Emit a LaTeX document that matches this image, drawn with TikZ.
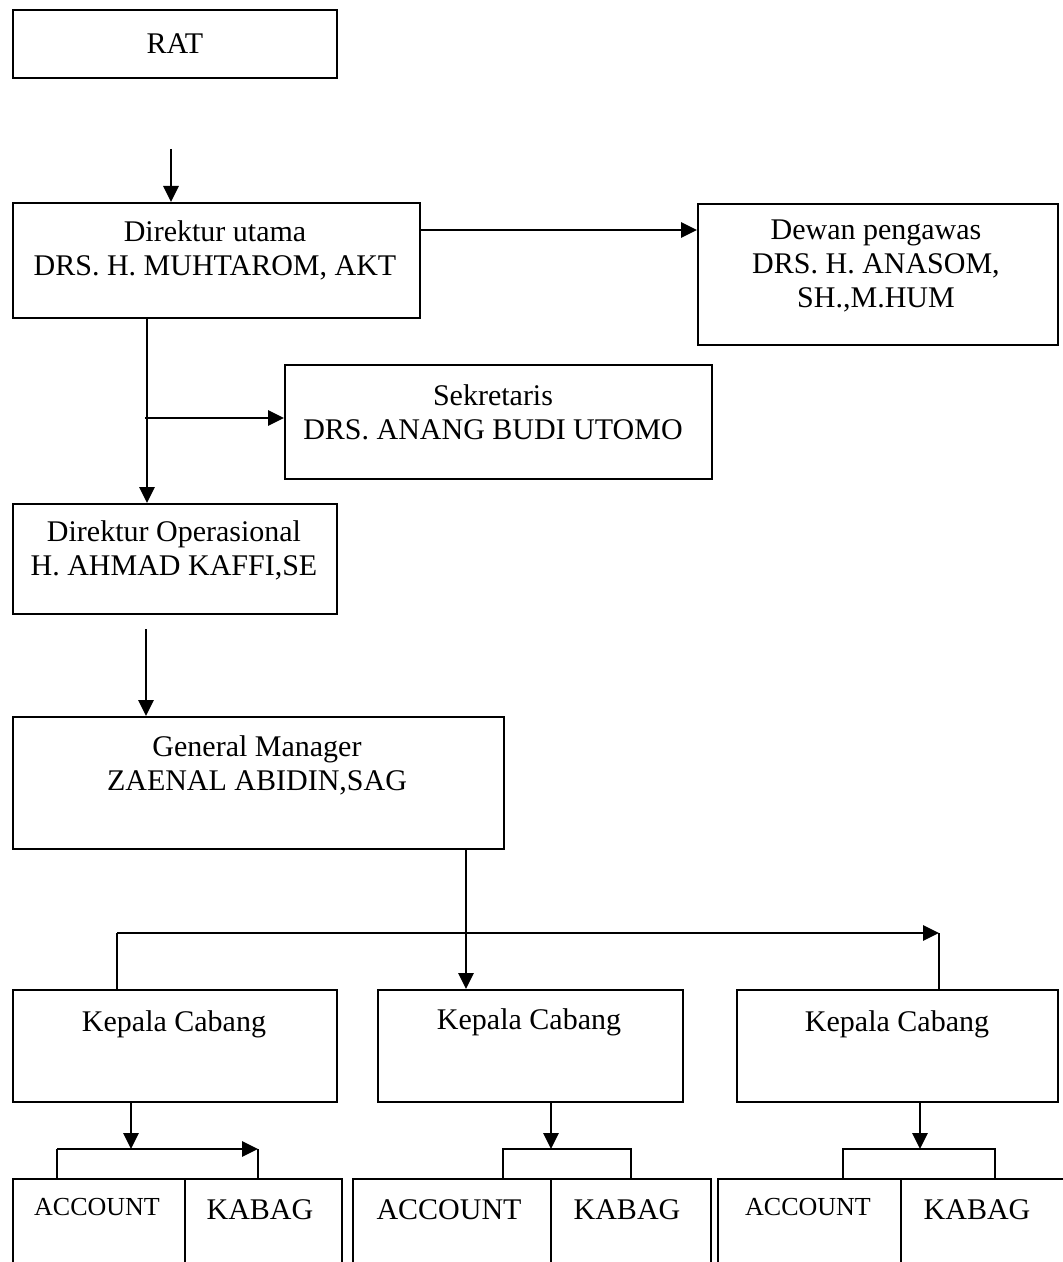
\documentclass[tikz,border=0pt]{standalone}
\usepackage{fontspec}
\setmainfont{Liberation Serif}
\usetikzlibrary{arrows.meta,positioning}

\begin{document}
\begin{tikzpicture}[x=0.5pt,y=-0.5pt,>={Triangle[length=8pt,width=7.5pt]},
                font=\fontsize{15}{17}\selectfont,
                box/.style 2 args={draw,line width=0.9pt,inner sep=0pt,anchor=north west,
                                   minimum width=#1*0.5pt,minimum height=#2*0.5pt},
                txt/.style={align=center,inner sep=0pt},
                small/.style={txt,font=\fontsize{13}{15}\selectfont},
                link/.style={->,line width=1.4pt},
                tie/.style={line width=0.9pt}]
            \useasboundingbox (0,0) rectangle (1062,1262);

            \node [box={324}{68}]   (rat)  at (12,9)      {RAT};
            \node [box={407}{115}]  (dut)  at (12,202)    {};
            \node [box={360}{141}]  (dew)  at (697,203)   {};
            \node [box={427}{114}]  (sek)  at (284,364)   {};
            \node [box={324}{110}]  (dop)  at (12,503)    {};
            \node [box={491}{132}]  (gm)   at (12,716)    {};
            \node [box={324}{112}]  (kc1)  at (12,989)    {};
            \node [box={305}{112}]  (kc2)  at (377,989)   {};
            \node [box={321}{112}]  (kc3)  at (736,989)   {};
            \node [box={172}{120}]  (acc1) at (12,1178)   {};
            \node [box={157}{120}]  (kab1) at (184,1178)  {};
            \node [box={198}{120}]  (acc2) at (352,1178)  {};
            \node [box={160}{120}]  (kab2) at (550,1178)  {};
            \node [box={183}{120}]  (acc3) at (717,1178)  {};
            \node [box={180}{120}]  (kab3) at (900,1178)  {};

            \node [txt]   (dut-t)  at (215,250)  {Direktur utama\\DRS. H. MUHTAROM, AKT};
            \node [txt]   (dew-t)  at (876,266)  {Dewan pengawas\\DRS. H. ANASOM,\\SH.,M.HUM};
            \node [txt]   (sek-t)  at (493,412)  {Sekretaris\\DRS. ANANG BUDI UTOMO};
            \node [txt]   (dop-t)  at (174,550)  {Direktur Operasional\\H. AHMAD KAFFI,SE};
            \node [txt]   (gm-t)   at (257,765)  {General Manager\\ZAENAL ABIDIN,SAG};
            \node [txt]   (kc1-t)  at (174,1024) {Kepala Cabang};
            \node [txt]   (kc2-t)  at (529,1022) {Kepala Cabang};
            \node [txt]   (kc3-t)  at (897,1024) {Kepala Cabang};
            \node [small] (acc1-t) at (97,1207)  {ACCOUNT};
            \node [txt]   (kab1-t) at (260,1210) {KABAG};
            \node [txt]   (acc2-t) at (449,1210) {ACCOUNT};
            \node [txt]   (kab2-t) at (627,1210) {KABAG};
            \node [small] (acc3-t) at (808,1207) {ACCOUNT};
            \node [txt]   (kab3-t) at (977,1210) {KABAG};

            \coordinate (a1) at (171,149);
            \coordinate (j1) at (419,230);
            \coordinate (v1) at (145,418);
            \coordinate (a2) at (146,629);
            \coordinate (v2) at (466,933);
            \coordinate (h1) at (117,933);
            \coordinate (h2) at (939,933);
            \coordinate (d1) at (131,1149);
            \coordinate (d2) at (551,1149);
            \coordinate (d3) at (920,1149);
            \coordinate (l1) at (57,1149);
            \coordinate (r1) at (258,1149);
            \coordinate (l2) at (503,1149);
            \coordinate (r2) at (631,1149);
            \coordinate (l3) at (843,1149);
            \coordinate (r3) at (995,1149);

            \draw [link] (a1) -- (a1 |- dut.north);
            \draw [link] (j1) -- (j1 -| dew.west);
            \draw [link] (147,0 |- dut.south) -- (147,0 |- dop.north);
            \draw [link] (v1) -- (v1 -| sek.west);
            \draw [link] (a2) -- (a2 |- gm.north);
            \draw [link] (v2 |- gm.south) -- (v2 |- kc2.north);
            \draw [tie]  (h1 |- kc1.north) -- (h1);
            \draw [link] (h1) -- (h2);
            \draw [tie]  (h2) -- (h2 |- kc3.north);

            \draw [link] (d1 |- kc1.south) -- (d1);
            \draw [link] (d2 |- kc2.south) -- (d2);
            \draw [link] (d3 |- kc3.south) -- (d3);
            \draw [tie]  (l1 |- acc1.north) -- (l1);
            \draw [link] (l1) -- (r1);
            \draw [tie]  (r1) -- (r1 |- kab1.north);
            \draw [tie]  (l2 |- acc2.north) -- (l2) -- (r2) -- (r2 |- kab2.north);
            \draw [tie]  (l3 |- acc3.north) -- (l3) -- (r3) -- (r3 |- kab3.north);
        \end{tikzpicture}
\end{document}
